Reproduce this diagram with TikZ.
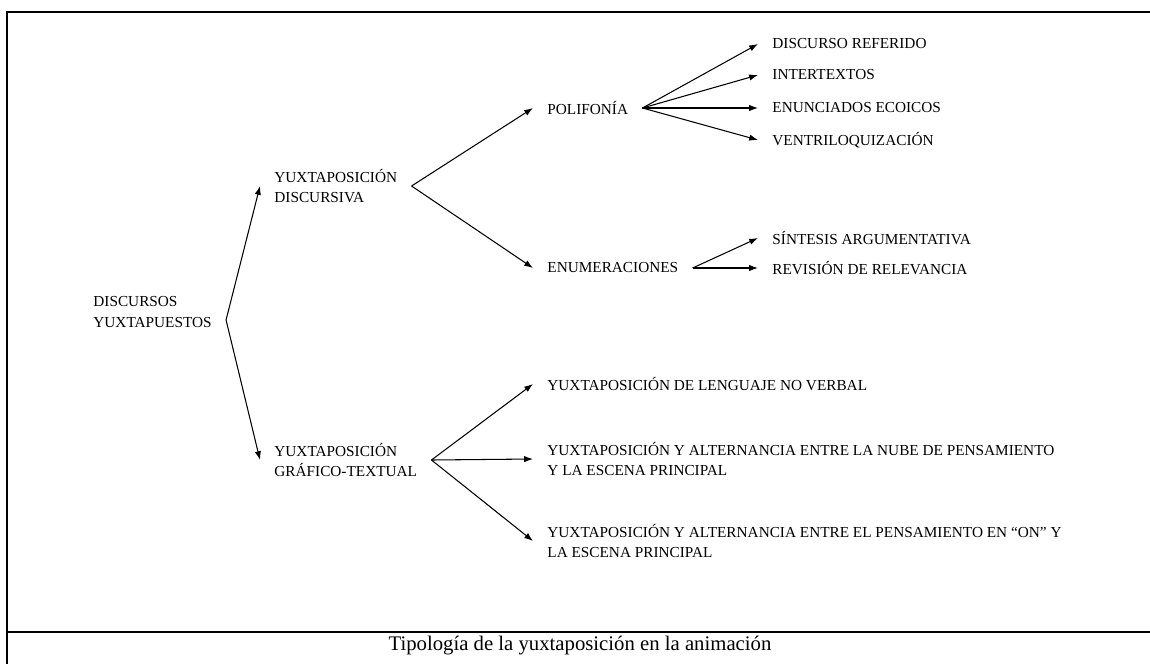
\documentclass[tikz,border=0pt]{standalone}
\usepackage{fontspec}
\setmainfont{Liberation Serif}
\usetikzlibrary{arrows.meta,calc}
\tikzset{etiq/.style={anchor=west,align=left,inner xsep=8pt,inner ysep=0pt,font=\fontsize{8.7pt}{11.6pt}\selectfont},hoja/.style={etiq},flecha/.style={-{Latex[length=5pt,width=3.6pt]},line width=.6pt},marco/.style={line width=1.1pt},pie/.style={inner sep=0pt,font=\fontsize{11.8pt}{14pt}\selectfont}}

\begin{document}
\begin{tikzpicture}[x=0.02cm,y=-0.02cm]
\useasboundingbox (0,0) rectangle (1150,664);
\draw[marco] (1150,12) -- (7,12) -- (7,664);
\draw[marco] (7,632) -- (1150,632);
\node[pie] (titulo) at (580,646) {Tipología de la yuxtaposición en la animación};
\node[etiq] (discursos) at (79,312) {DISCURSOS\\YUXTAPUESTOS};
\node[etiq] (discursiva) at (260,186) {YUXTAPOSICIÓN\\DISCURSIVA};
\node[etiq] (grafico) at (260,460) {YUXTAPOSICIÓN\\GRÁFICO-TEXTUAL};
\node[etiq] (polifonia) at (533,108) {POLIFONÍA};
\node[etiq] (enumeraciones) at (533,268) {ENUMERACIONES};
\node[hoja] (referido) at (758,44) {DISCURSO REFERIDO};
\node[hoja] (intertextos) at (758,75) {INTERTEXTOS};
\node[hoja] (ecoicos) at (758,108) {ENUNCIADOS ECOICOS};
\node[hoja] (ventrilo) at (758,140) {VENTRILOQUIZACIÓN};
\node[hoja] (sintesis) at (758,238) {SÍNTESIS ARGUMENTATIVA};
\node[hoja] (revision) at (758,268) {REVISIÓN DE RELEVANCIA};
\node[etiq] (noverbal) at (533,384) {YUXTAPOSICIÓN DE LENGUAJE NO VERBAL};
\node[etiq] (nube) at (533,459) {YUXTAPOSICIÓN Y ALTERNANCIA ENTRE LA NUBE DE PENSAMIENTO\\Y LA ESCENA PRINCIPAL};
\node[etiq] (enon) at (533,541) {YUXTAPOSICIÓN Y ALTERNANCIA ENTRE EL PENSAMIENTO EN “ON” Y\\LA ESCENA PRINCIPAL};
\draw[flecha] ($(discursos.east)+(0,8)$) -- (discursiva.west);
\draw[flecha] ($(discursos.east)+(0,8)$) -- (grafico.west);
\draw[flecha] (discursiva.east) -- (polifonia.west);
\draw[flecha] (discursiva.east) -- (enumeraciones.west);
\foreach \hijo in {referido,intertextos,ecoicos,ventrilo}
  \draw[flecha] (polifonia.east) -- (\hijo.west);
\foreach \hijo in {sintesis,revision}
  \draw[flecha] (enumeraciones.east) -- (\hijo.west);
\foreach \hijo in {noverbal,nube,enon}
  \draw[flecha] (grafico.east) -- (\hijo.west);
\end{tikzpicture}
\end{document}
